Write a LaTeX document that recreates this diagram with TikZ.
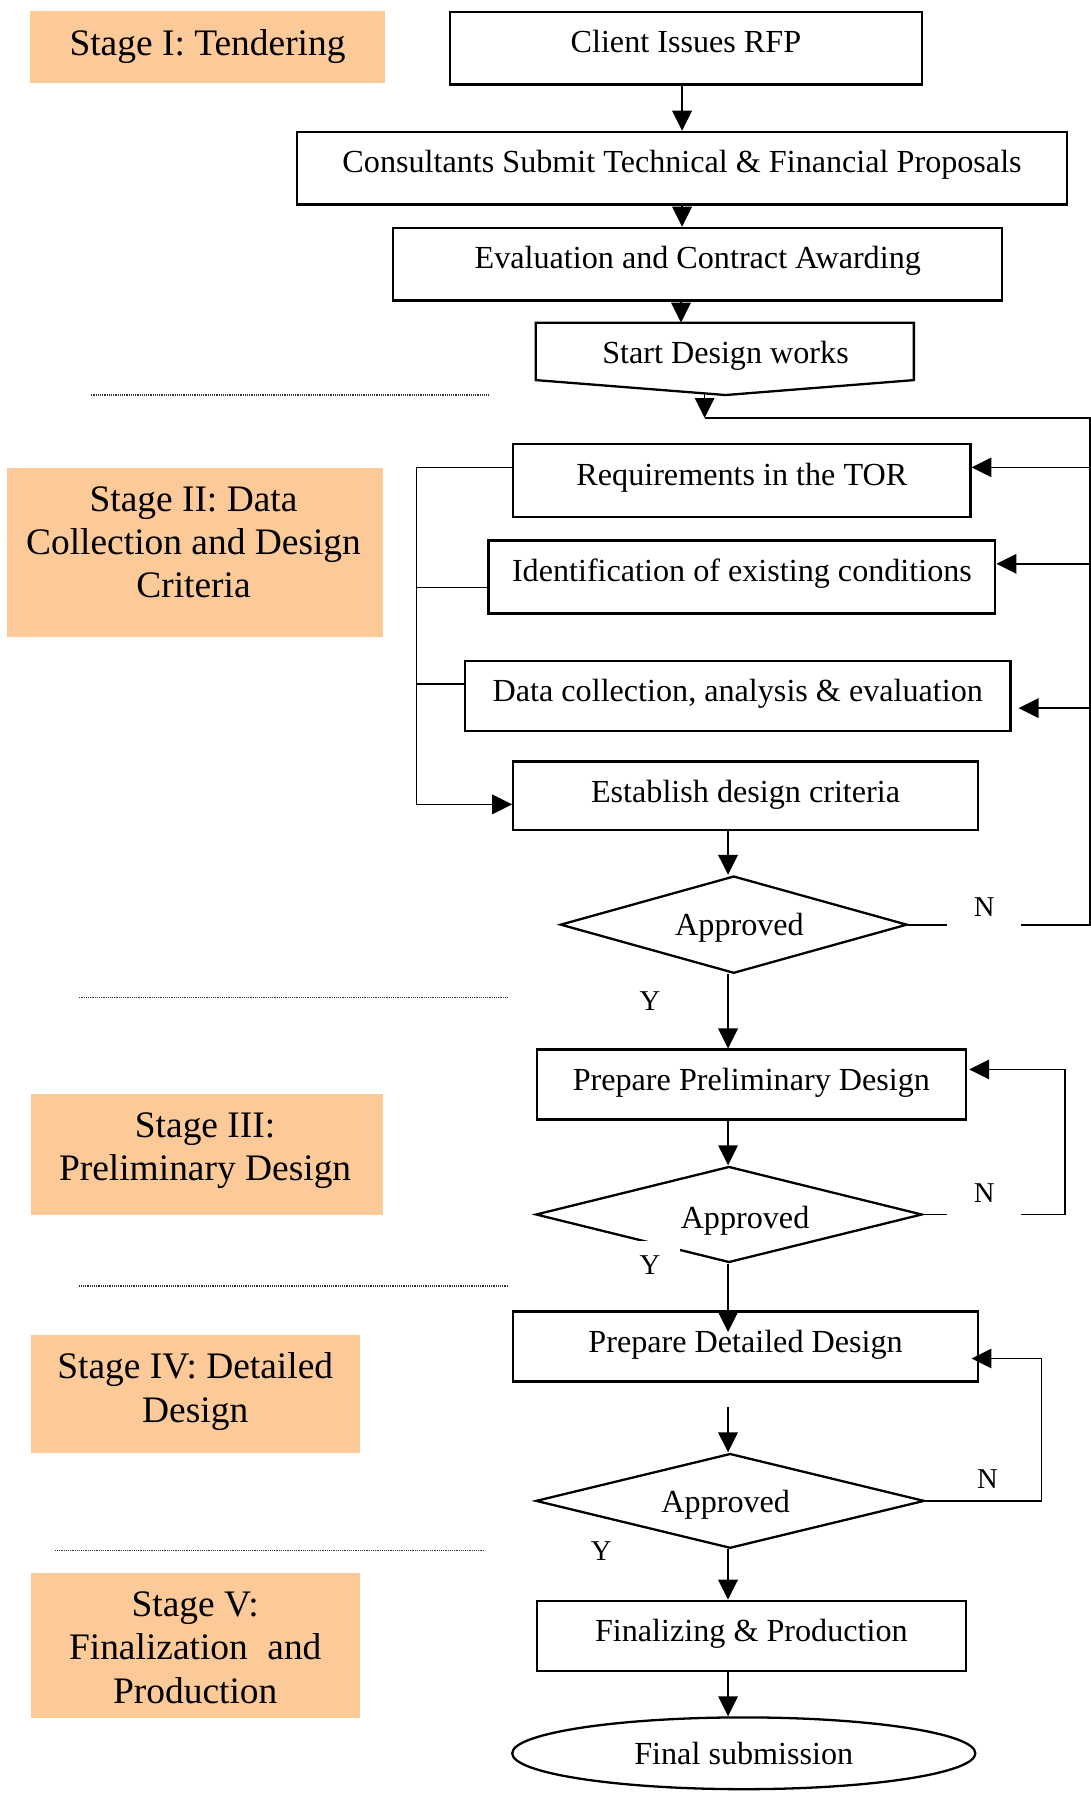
\documentclass[tikz,border=0pt]{standalone}
\usepackage{fontspec}
\setmainfont{Liberation Serif}
\usetikzlibrary{arrows.meta,shapes.geometric}
\definecolor{peach}{RGB}{252,201,152}
\begin{document}
\begin{tikzpicture}[x=1pt,y=-1pt,
  every node/.style={font=\fontsize{28}{32}\selectfont},
  box/.style={draw, line width=2pt, inner sep=0pt, anchor=north west, text height=35.5pt},
  stagebox/.style={fill=peach, draw=none, inner sep=0pt, anchor=north west},
  stagetext/.style={font=\fontsize{32.6}{37.5}\selectfont, align=center},
  conn/.style={line width=1.5pt},
  arr/.style={conn, -{Triangle[length=17.4pt,width=17pt]}},
  dec/.style={draw, diamond, line width=2pt, inner sep=0pt},
  ylab/.style={font=\fontsize{25}{30}\selectfont, fill=white, inner sep=0pt, minimum width=52pt, text height=29.5pt, text depth=6pt, anchor=base},
  nlab/.style={font=\fontsize{25}{30}\selectfont, fill=white, inner sep=0pt, minimum width=64pt, text height=29.5pt, text depth=12pt, anchor=base},
  sep/.style={line width=1.2pt, dash pattern=on 0.8pt off 0.8pt, draw=black!80}
]
\useasboundingbox (0,0) rectangle (950,1564);

% stage labels
\node[stagebox, minimum width=309pt, minimum height=63pt] (s1) at (26,9) {};
\node[stagetext, anchor=base] (s1t) at (180.7,47.9) {Stage I: Tendering};
\node[stagebox, minimum width=327.5pt, minimum height=147.4pt] (s2) at (6,407) {};
\node[stagetext] (s2t) at (168.5,471.9) {Stage II: Data\\Collection and Design\\Criteria};
\node[stagebox, minimum width=306.5pt, minimum height=105.4pt] (s3) at (27,952.6) {};
\node[stagetext] (s3t) at (178.6,1002) {Stage III:\\Preliminary Design};
\node[stagebox, minimum width=286.5pt, minimum height=102.8pt] (s4) at (27,1162.2) {};
\node[stagetext] (s4t) at (170,1211.8) {Stage IV: Detailed\\Design};
\node[stagebox, minimum width=286.5pt, minimum height=126.3pt] (s5) at (27,1369.5) {};
\node[stagetext] (s5t) at (170,1434.9) {Stage V:\\Finalization\hspace{0.52em}and\\Production};

% separators
\draw[sep] (79,344) -- (425,344);
\draw[sep] (68.6,868.4) -- (442,868.4);
\draw[sep] (69,1120) -- (442,1120);
\draw[sep] (48,1350) -- (421.6,1350);

% boxes
\node[box, minimum width=411.4pt, text depth=27.8pt] (client) at (390.6,9.3) {Client Issues RFP};
\node[box, minimum width=670.7pt, text depth=27.8pt] (cons) at (257.6,113.8) {Consultants Submit Technical \& Financial Proposals};
\node[box, minimum width=530.4pt, text depth=27.8pt] (eval) at (341.4,197.4) {Evaluation and Contract Awarding};
\draw[line width=2pt] (466.6,281) -- (795.8,281) -- (795.8,331) -- (631.8,344) -- (466.6,331) -- cycle;
\node[anchor=base] (start) at (631.8,316.5) {Start Design works};
\coordinate (starttop) at (593,281);
\coordinate (sbot) at (613.6,342.6);
\coordinate (lp) at (613.6,364);
\coordinate (rt) at (949,364);
\coordinate (lb) at (362.7,407);

\node[box, minimum width=398pt, text depth=28pt] (req) at (446,385.9) {Requirements in the TOR};
\node[box, minimum width=441.2pt, text depth=28pt] (ident) at (424.5,469.8) {Identification of existing conditions};
\node[box, minimum width=475pt, text depth=25.3pt] (data) at (404,574.5) {Data collection, analysis \& evaluation};
\node[box, minimum width=404.5pt, text depth=24.5pt] (estab) at (446,662) {Establish design criteria};

\node[dec, minimum width=302pt, minimum height=84.7pt, aspect=3.56] (d1) at (639,805.2) {};
\node[anchor=base] (d1t) at (644,815) {Approved};

\node[box, minimum width=373.4pt, text depth=25.5pt] (prelim) at (466.6,913) {Prepare Preliminary Design};
\node[dec, minimum width=336.4pt, minimum height=83.6pt, aspect=4.02] (d2) at (634.8,1057.6) {};
\node[anchor=base] (d2t) at (648.8,1069.4) {Approved};

\node[box, minimum width=404.5pt, text depth=25.5pt] (detail) at (446,1141) {Prepare Detailed Design};
\node[dec, minimum width=338.4pt, minimum height=82.5pt, aspect=4.1] (d3) at (635.8,1307) {};
\node[anchor=base] (d3t) at (632,1317.5) {Approved};

\node[box, minimum width=373.4pt, text depth=25.5pt] (final) at (466.6,1393) {Finalizing \& Production};
\node[draw, ellipse, line width=2pt, minimum width=403.3pt, minimum height=62.5pt, inner sep=0pt] (end) at (647.7,1526.8) {Final submission};

% main flow
\draw[arr] (cons.north |- client.south) -- (cons.north);
\draw[arr] (cons.south) -- (cons.south |- eval.north);
\draw[arr] (starttop |- eval.south) -- (starttop);
\draw[arr] (sbot) -- (lp);
\draw[arr] (estab.south -| 634,0) -- (d1.north -| 634,0);
\draw[arr] (d1.south -| 634,0) -- (prelim.north -| 634,0);
\draw[arr] (prelim.south -| 634,0) -- (d2.north -| 634,0);
\draw[arr] (d2.south -| 634,0) -- (634,1160);
\draw[arr] (634,1225) -- (d3.north -| 634,0);
\draw[arr] (d3.south -| 634,0) -- (final.north -| 634,0);
\draw[arr] (final.south -| 634,0) -- (end.north -| 634,0);

% stage II loops
\draw[conn] (d1.east) -- (rt |- d1.east) -- (rt) -- (lp);
\draw[arr] (rt |- 0,407) -- (req.east |- 0,407);
\draw[arr] (rt |- 0,491) -- (ident.east |- 0,491);
\draw[arr] (rt |- 0,616.6) -- (887,616.6);
\draw[conn] (req.west |- lb) -- (lb);
\draw[conn] (ident.west |- 0,511.6) -- (lb |- 0,511.6);
\draw[conn] (data.west |- 0,595.9) -- (lb |- 0,595.9);
\draw[arr] (lb) -- (lb |- 0,700.5) -- (estab.west |- 0,700.5);

% stage III / IV loops
\draw[arr] (d2.east) -- (927.6,1057.6) -- (927.6,931.3) -- (844,931.3);
\draw[arr] (d3.east) -- (907,1307) -- (907,1183) -- (846,1183);

% Y / N labels
\node[nlab] (n1) at (857,798.3) {N};
\node[nlab] (n2) at (857,1047.3) {N};
\node[nlab, fill=none] (n3) at (860,1296) {N};
\node[ylab] (y1) at (566,879.9) {Y};
\node[ylab] (y2) at (566,1109.9) {Y};
\node[ylab] (y3) at (523.6,1359.3) {Y};
\end{tikzpicture}
\end{document}
